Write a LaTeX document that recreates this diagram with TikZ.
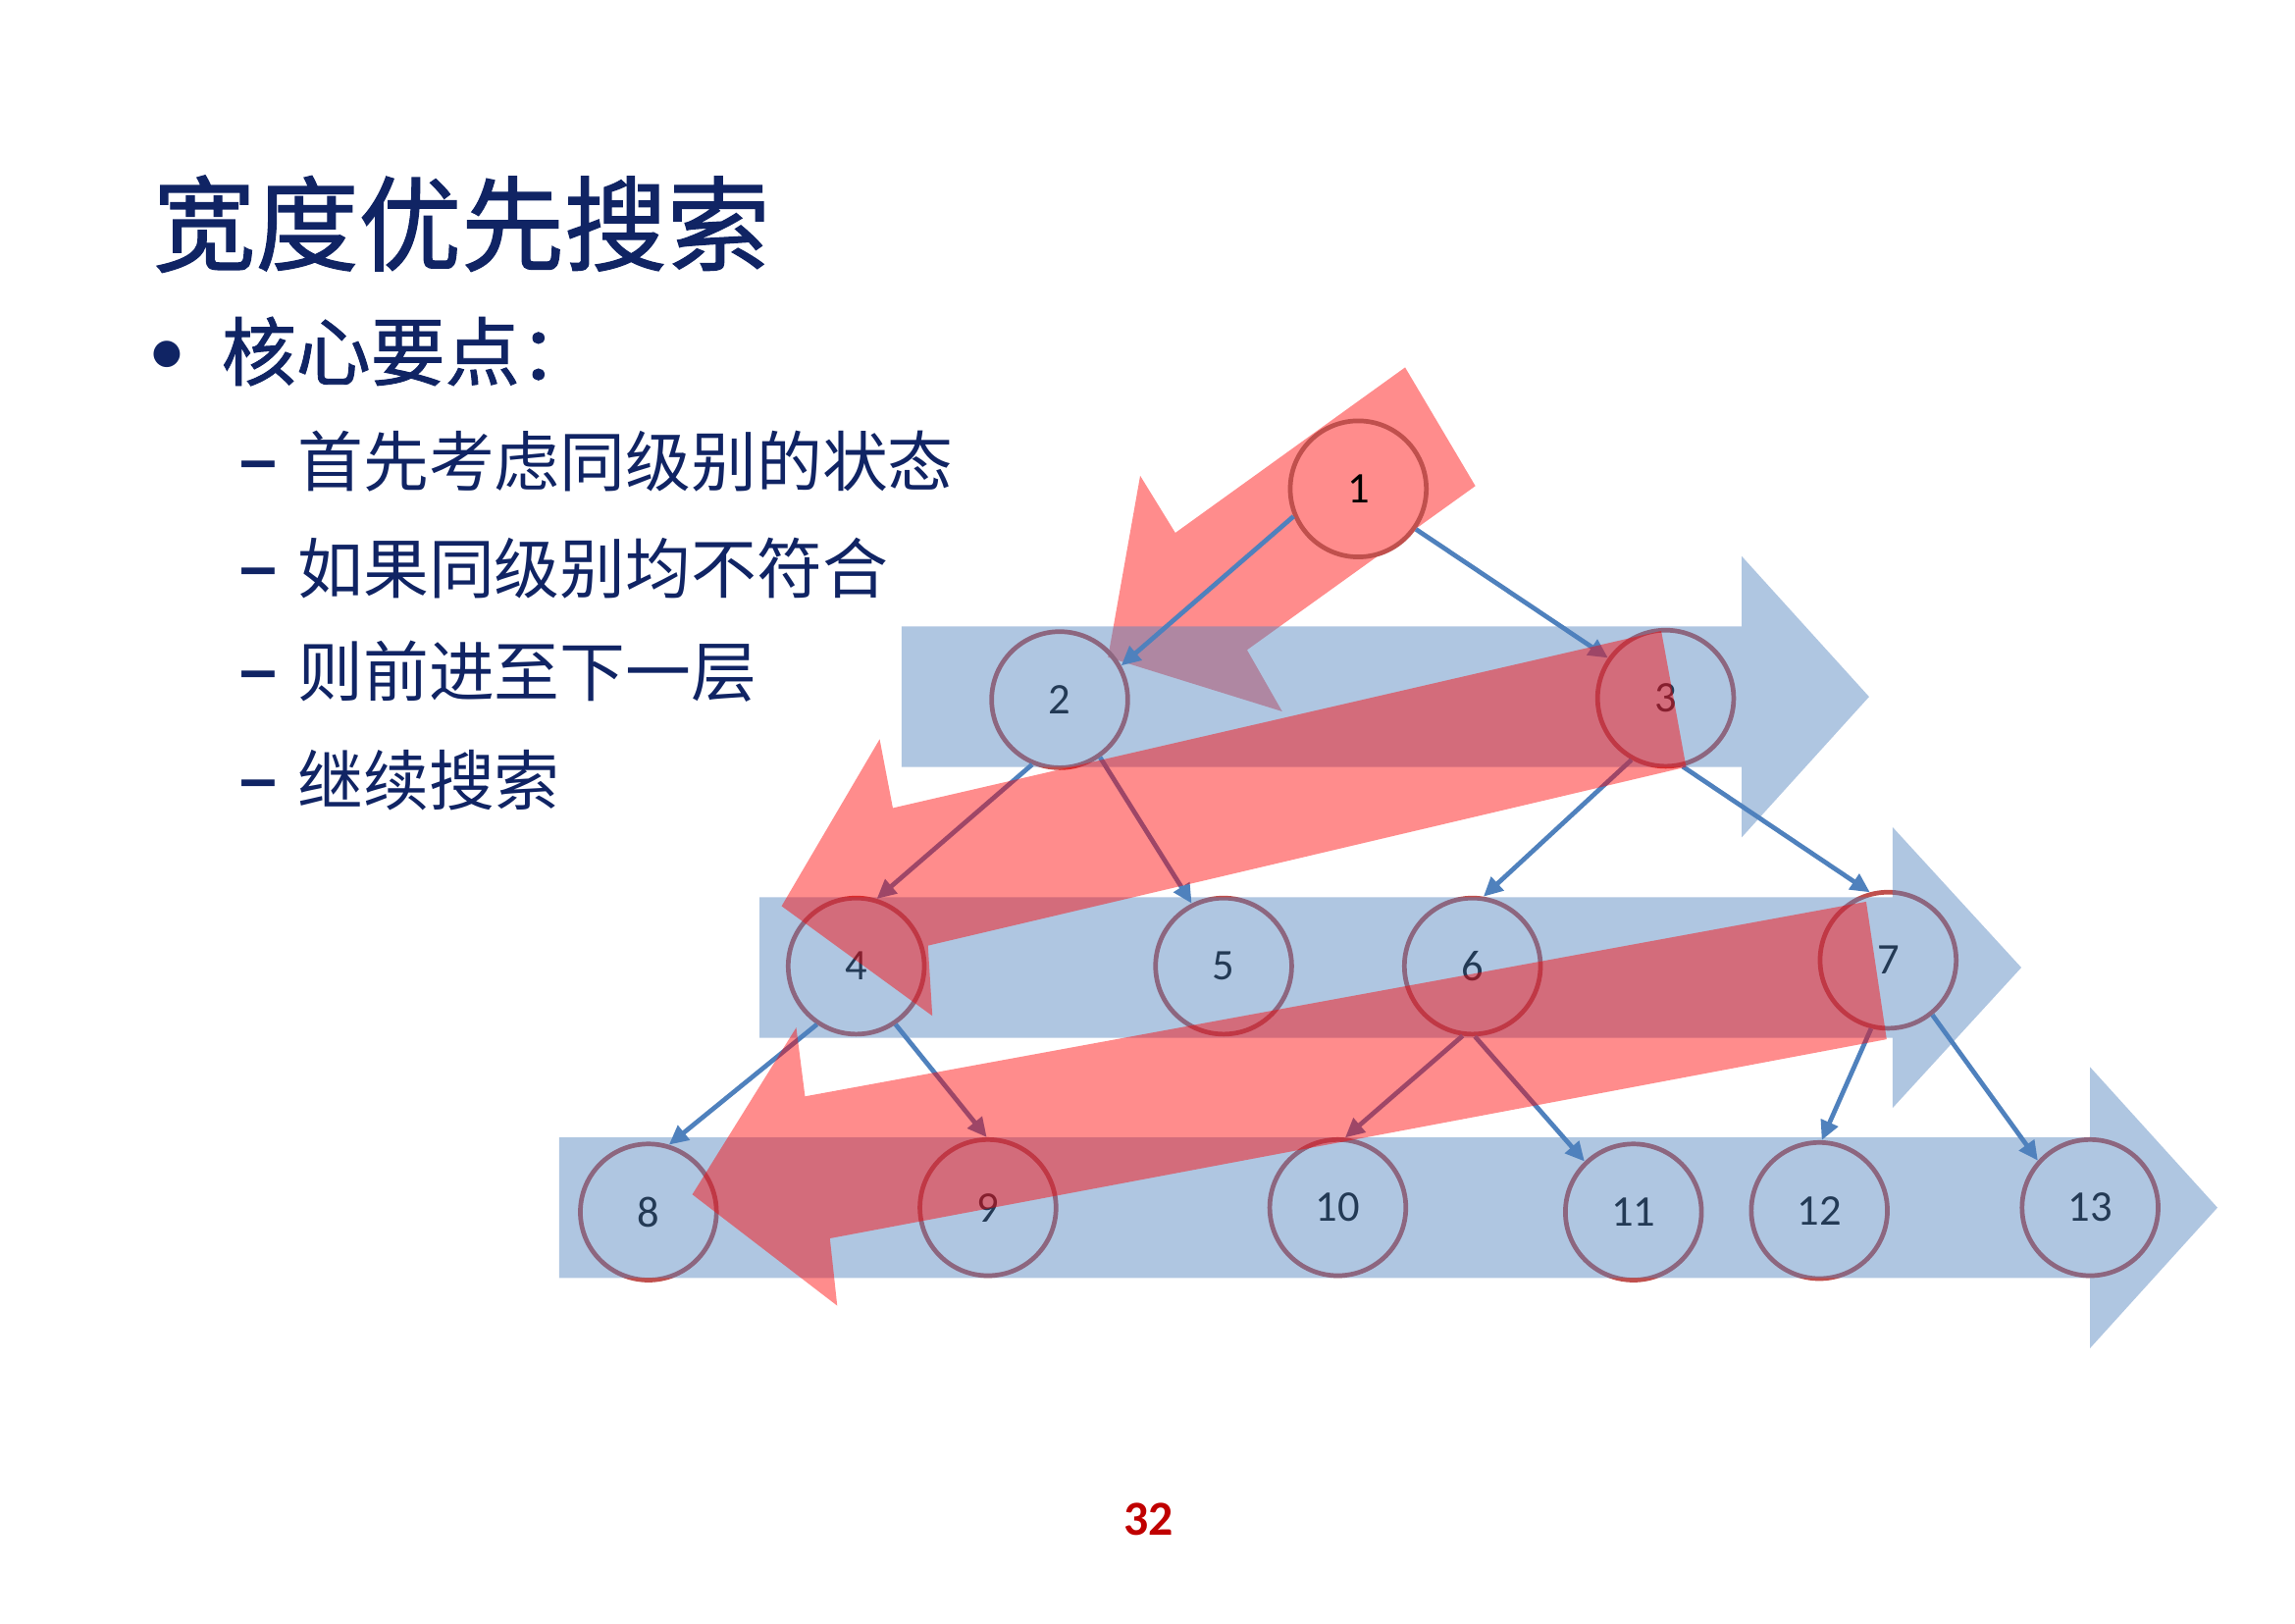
\documentclass[tikz,border=0pt]{standalone}
\usepackage{fontspec}
\setmainfont{Carlito}
\newfontfamily\cjk{Noto Sans CJK SC}
\newfontfamily\cjkheavy[FakeBold=1.2]{Noto Sans CJK SC}
\newfontfamily\dashfont{Liberation Sans}
\usetikzlibrary{arrows.meta}
\definecolor{navy}{RGB}{16,36,100}
\definecolor{edgeblue}{RGB}{79,129,189}
\definecolor{ringred}{RGB}{192,80,77}
\definecolor{pagered}{RGB}{192,0,0}
\tikzset{
  tnode/.style={circle,draw=ringred,line width=1.8pt,minimum size=1.86cm,inner sep=0pt,
                font=\fontsize{17pt}{20pt}\selectfont,text=black},
  tedge/.style={draw=edgeblue,line width=1.8pt,-{Triangle[length=7.5pt,width=7pt]}},
  band/.style={fill=edgeblue,fill opacity=0.45,draw=none},
  redarrow/.style={fill=red,fill opacity=0.45,draw=none},
  titletext/.style={anchor=west,inner sep=0pt,text=navy,font=\cjkheavy\fontsize{40pt}{48pt}\selectfont},
  headtext/.style={anchor=west,inner sep=0pt,text=navy,font=\cjkheavy\fontsize{29pt}{34pt}\selectfont},
  itemtext/.style={anchor=west,inner sep=0pt,text=navy,font=\cjk\fontsize{25.5pt}{30pt}\selectfont},
  dashtext/.style={inner sep=0pt,text=navy,font=\dashfont\bfseries\fontsize{26pt}{30pt}\selectfont},
}
\begin{document}
\begin{tikzpicture}[x=0.02cm,y=-0.02cm]
\fill[white] (0,0) rectangle (1568,1109);
\useasboundingbox (0,0) rectangle (1568,1109);

% first red arrow (under the tree)
\fill[redarrow] (960,251) -- (1008,332) -- (852,444) -- (876,486) -- (757,449) -- (779,325) -- (803,364) -- cycle;

% tree nodes
\node[tnode] (n1) at (928,334) {1};
\node[tnode] (n2) at (724,478) {2};
\node[tnode] (n3) at (1138,477) {3};
\node[tnode] (n4) at (585,660) {4};
\node[tnode] (n5) at (836,660) {5};
\node[tnode] (n6) at (1006,660) {6};
\node[tnode] (n7) at (1290,656) {7};
\node[tnode] (n8) at (443,828) {8};
\node[tnode] (n9) at (675,825) {9};
\node[tnode] (n10) at (914,825) {10};
\node[tnode] (n11) at (1116,828) {11};
\node[tnode] (n12) at (1243,827) {12};
\node[tnode] (n13) at (1428,825) {13};

% tree edges
\draw[tedge] (n1.-157) -- (n2.29);
\draw[tedge] (n1.-35) -- (n3.145);
\draw[tedge] (n2.-113) -- (n4.73);
\draw[tedge] (n2.-55) -- (n5.117);
\draw[tedge] (n3.-119) -- (n6.81);
\draw[tedge] (n3.-76) -- (n7.105);
\draw[tedge] (n4.-124) -- (n8.73);
\draw[tedge] (n4.-56) -- (n9.91);
\draw[tedge] (n6.-98) -- (n10.84);
\draw[tedge] (n6.-88) -- (n11.134);
\draw[tedge] (n7.-104) -- (n12.88);
\draw[tedge] (n7.-51) -- (n13.138);

% blue level bands
\fill[band] (616,428) -- (1190,428) -- (1190,380) -- (1277,476) -- (1190,572) -- (1190,524) -- (616,524) -- cycle;
\fill[band] (519,613) -- (1293,613) -- (1293,565) -- (1381,661) -- (1293,757) -- (1293,709) -- (519,709) -- cycle;
\fill[band] (382,777) -- (1428,777) -- (1428,729) -- (1515,825) -- (1428,921) -- (1428,873) -- (382,873) -- cycle;

% red return arrows
\fill[redarrow] (1135,431) -- (1152,524) -- (634,646) -- (637,694) -- (534,619) -- (601,505) -- (610,552) -- cycle;
\fill[redarrow] (1275,616) -- (1289,710) -- (567,846) -- (572,892) -- (473,816) -- (544,702) -- (550,749) -- cycle;

% texts
\node[titletext] (title) at (104,153) {宽度优先搜索};
\node[inner sep=0pt,text=navy,font=\fontsize{29pt}{34pt}\selectfont] (bul) at (114.5,245) {•};
\node[headtext] (head) at (151,240) {核心要点：};
\node[dashtext] (d1) at (176.5,322) {–};
\node[itemtext] (t1) at (203,315) {首先考虑同级别的状态};
\node[dashtext] (d2) at (176.5,395) {–};
\node[itemtext] (t2) at (203,388) {如果同级别均不符合};
\node[dashtext] (d3) at (176.5,466) {–};
\node[itemtext] (t3) at (203,459) {则前进至下一层};
\node[dashtext] (d4) at (176.5,540) {–};
\node[itemtext] (t4) at (203,533) {继续搜索};

\node[inner sep=0pt,text=pagered,font=\bfseries\fontsize{19pt}{22pt}\selectfont] (page) at (784.5,1038) {32};
\end{tikzpicture}
\end{document}
